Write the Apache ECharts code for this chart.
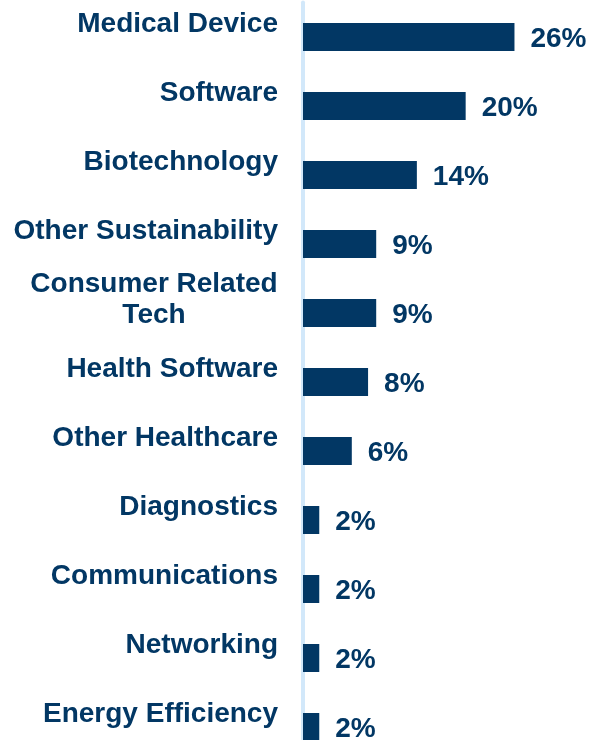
<!DOCTYPE html>
<html>
<head>
<meta charset="utf-8">
<script src="https://cdn.jsdelivr.net/npm/echarts@6/dist/echarts.min.js"></script>
<style>
  html, body { margin: 0; padding: 0; background: #ffffff; }
  #chart { width: 594px; height: 740px; }
</style>
</head>
<body>
<div id="chart"></div>
<script>
// Sector breakdown (share of total, %)
const categories = [
  'Medical Device',
  'Software',
  'Biotechnology',
  'Other Sustainability',
  'Consumer Related\nTech',
  'Health Software',
  'Other Healthcare',
  'Diagnostics',
  'Communications',
  'Networking',
  'Energy Efficiency'
];
const shares = [26, 20, 14, 9, 9, 8, 6, 2, 2, 2, 2];

const NAVY = '#023764';
const FONT = '"Liberation Sans", Arial, Helvetica, sans-serif';

const chart = echarts.init(document.getElementById('chart'), null, { renderer: 'canvas' });

chart.setOption({
  animation: false,
  backgroundColor: '#ffffff',
  grid: {
    left: 303, top: 2.5, width: 244, height: 759,
    containLabel: false,
    outerBoundsMode: 'none'
  },
  xAxis: {
    type: 'value',
    min: 0,
    max: 30,
    show: false
  },
  yAxis: {
    type: 'category',
    data: categories,
    inverse: true,
    axisTick: { show: false },
    splitLine: { show: false },
    axisLine: { show: true, lineStyle: { color: '#d2e8fa', width: 4 } },
    axisLabel: {
      margin: 25,
      color: NAVY,
      fontFamily: FONT,
      fontWeight: 'bold',
      fontSize: 28,
      lineHeight: 31,
      padding: [0, 0, 26, 0],
      formatter: function (v) {
        if (v.indexOf('\n') >= 0) {
          return v.split('\n').map(function (s) { return '{c|' + s + '}'; }).join('\n');
        }
        return v;
      },
      rich: {
        c: {
          width: 248,
          align: 'center',
          color: NAVY,
          fontFamily: FONT,
          fontWeight: 'bold',
          fontSize: 28,
          lineHeight: 31
        }
      }
    }
  },
  series: [{
    type: 'bar',
    data: shares,
    barWidth: 28,
    itemStyle: { color: NAVY },
    label: {
      show: true,
      position: 'right',
      distance: 16,
      offset: [0, 2],
      formatter: '{c}%',
      color: NAVY,
      fontFamily: FONT,
      fontWeight: 'bold',
      fontSize: 28
    }
  }]
});
</script>
</body>
</html>
